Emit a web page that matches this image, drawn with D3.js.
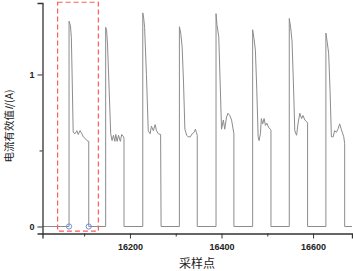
<!DOCTYPE html>
<html>
<head>
<meta charset="utf-8">
<script src="https://cdn.jsdelivr.net/npm/d3@7"></script>
<style>
  body { margin: 0; background: #fff; }
  svg { display: block; }
</style>
</head>
<body>
<div id="chart"></div>
<script>
// sample index / RMS current (A)
const sampleIdx = [
  16009,
  16067, 16067, 16070, 16072, 16074, 16076, 16080, 16084, 16087, 16091, 16095, 16098, 16102, 16106, 16110, 16110,
  16147, 16147, 16149, 16151, 16154, 16158, 16161, 16164, 16167, 16169, 16172, 16175, 16179, 16182, 16186, 16187, 16187,
  16228, 16228, 16230, 16232, 16236, 16240, 16244, 16247, 16251, 16255, 16258, 16262, 16267, 16268,
  16308, 16308, 16311, 16314, 16317, 16320, 16324, 16327, 16332, 16336, 16340, 16343, 16345, 16347, 16347,
  16388, 16388, 16390, 16394, 16397, 16400, 16404, 16407, 16411, 16414, 16418, 16422, 16427, 16427,
  16468, 16468, 16471, 16474, 16477, 16480, 16482, 16485, 16487, 16490, 16493, 16496, 16499, 16503, 16507, 16508, 16508,
  16548, 16548, 16551, 16554, 16557, 16560, 16564, 16567, 16571, 16575, 16578, 16582, 16586, 16588, 16588,
  16628, 16628, 16631, 16634, 16637, 16640, 16644, 16647, 16651, 16655, 16658, 16662, 16667, 16669, 16669,
  16685
];
const currentRms = [
  0,
  0, 1.35, 1.32, 1.245, 0.95, 0.62, 0.61, 0.63, 0.605, 0.63, 0.61, 0.59, 0.58, 0.565, 0.56, 0,
  0, 1.31, 1.29, 1.20, 0.95, 0.61, 0.565, 0.60, 0.56, 0.605, 0.56, 0.60, 0.56, 0.605, 0.59, 0.58, 0,
  0, 1.405, 1.37, 1.31, 1.0, 0.63, 0.61, 0.66, 0.63, 0.67, 0.63, 0.61, 0.605, 0,
  0, 1.314, 1.27, 1.18, 0.95, 0.64, 0.60, 0.59, 0.59, 0.61, 0.62, 0.64, 0.62, 0.60, 0,
  0, 1.40, 1.33, 1.245, 0.95, 0.64, 0.70, 0.64, 0.72, 0.745, 0.73, 0.70, 0.61, 0,
  0, 1.294, 1.235, 1.16, 0.9, 0.59, 0.565, 0.61, 0.71, 0.675, 0.71, 0.665, 0.68, 0.65, 0.64, 0.63, 0,
  0, 1.368, 1.31, 1.22, 0.95, 0.63, 0.60, 0.675, 0.745, 0.71, 0.73, 0.70, 0.69, 0.68, 0,
  0, 1.272, 1.21, 1.14, 0.9, 0.59, 0.59, 0.63, 0.62, 0.645, 0.675, 0.635, 0.59, 0.545, 0,
  0
];

// start / end of the highlighted pulse
const markerIdx = [16067, 16110];
const boxX = [16042, 16131];
const boxY = [-0.03, 1.475];

const xTicks = [16200, 16400, 16600];
const xMinorTicks = [16100, 16300, 16500];
const yTicks = [0, 1];
const yMinorTicks = [0.5];
const xDomain = [16009, 16685];
const yDomain = [-0.046, 1.47];

const W = 353, H = 271;
const margin = { top: 3, right: 1, bottom: 37.5, left: 42.5 };
const width = W - margin.left - margin.right;
const height = H - margin.top - margin.bottom;

const svg = d3.select("#chart").append("svg")
    .attr("width", W)
    .attr("height", H)
  .append("g")
    .attr("transform", `translate(${margin.left},${margin.top})`);

const x = d3.scaleLinear().domain(xDomain).range([0, width]);
const y = d3.scaleLinear().domain(yDomain).range([height, 0]);

const points = sampleIdx.map((s, i) => [s, currentRms[i]]);

// trace
svg.append("path")
    .datum(points)
    .attr("fill", "none")
    .attr("stroke", "#8c8c8c")
    .attr("stroke-width", 1)
    .attr("d", d3.line().x(d => x(d[0])).y(d => y(d[1])));

// dashed box round the first pulse
svg.append("rect")
    .attr("x", x(boxX[0]))
    .attr("y", y(boxY[1]))
    .attr("width", x(boxX[1]) - x(boxX[0]))
    .attr("height", y(boxY[0]) - y(boxY[1]))
    .attr("fill", "none")
    .attr("stroke", "#ff5a5a")
    .attr("stroke-width", 1.2)
    .attr("stroke-dasharray", "5,3");

svg.selectAll("circle.mark")
    .data(markerIdx).enter().append("circle")
    .attr("class", "mark")
    .attr("cx", d => x(d))
    .attr("cy", y(0))
    .attr("r", 2.6)
    .attr("fill", "none")
    .attr("stroke", "#6a8ee0")
    .attr("stroke-width", 1);

// axes
const tickFont = "'Liberation Sans', Arial, sans-serif";

svg.append("g")
    .attr("transform", `translate(0,${height})`)
    .call(d3.axisBottom(x).tickValues(xTicks).tickFormat(d3.format("d"))
        .tickSizeOuter(0).tickSize(5).tickPadding(5));
svg.append("g")
    .attr("transform", `translate(0,${height})`)
    .call(d3.axisBottom(x).tickValues(xMinorTicks).tickFormat("").tickSizeOuter(0).tickSize(3))
    .select(".domain").remove();

svg.append("g")
    .call(d3.axisLeft(y).tickValues(yTicks).tickFormat(d3.format("d"))
        .tickSizeOuter(0).tickSize(5).tickPadding(3));
svg.append("g")
    .call(d3.axisLeft(y).tickValues(yMinorTicks).tickFormat("").tickSizeOuter(0).tickSize(3))
    .select(".domain").remove();

svg.selectAll(".domain").attr("stroke", "#333").attr("stroke-width", 1.3);
svg.selectAll(".tick line").attr("stroke", "#333").attr("stroke-width", 1);
svg.selectAll(".tick text")
    .style("font-family", tickFont)
    .style("font-size", "9px")
    .style("font-weight", "bold")
    .attr("fill", "#222");

// axis titles
const cjk = "'Noto Sans CJK SC', sans-serif";
svg.append("text")
    .attr("x", 197 - margin.left)
    .attr("y", height + 34)
    .attr("text-anchor", "middle")
    .style("font-family", cjk)
    .style("font-size", "12px")
    .attr("fill", "#222")
    .text("采样点");

const yt = svg.append("text")
    .attr("transform", `translate(${-margin.left + 12.5},${126 - margin.top}) rotate(-90)`)
    .attr("text-anchor", "middle")
    .style("font-family", cjk)
    .style("font-size", "10.5px")
    .attr("fill", "#222");
yt.append("tspan").text("电流有效值");
yt.append("tspan").style("font-style", "italic").text("I");
yt.append("tspan").text("/(A)");
</script>
</body>
</html>
